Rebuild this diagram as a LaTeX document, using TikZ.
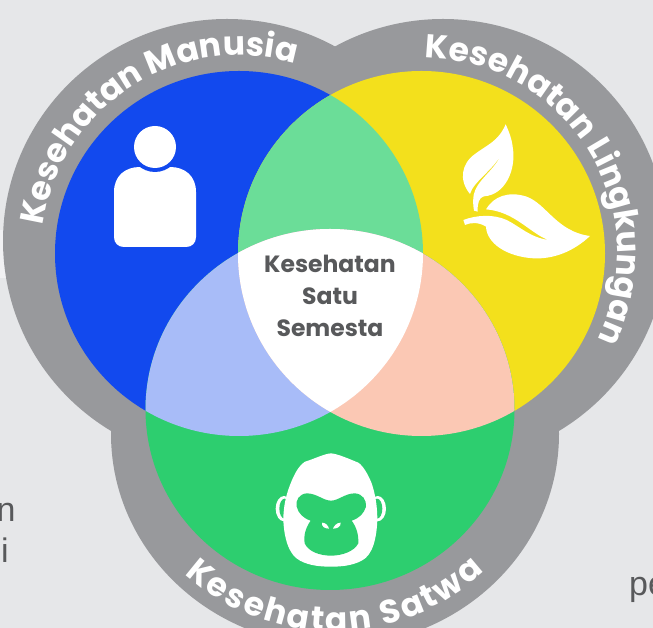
\documentclass[tikz,border=0pt]{standalone}
\usepackage{fontspec}
\setmainfont{Poppins}
\newfontfamily\straytext{Liberation Sans}
\usetikzlibrary{decorations.text}
\definecolor{bgc}{HTML}{E6E7E9}
\definecolor{stripc}{HTML}{F1F1F3}
\definecolor{ringc}{HTML}{98999C}
\definecolor{bluec}{HTML}{1249EE}
\definecolor{yellowc}{HTML}{F3E01C}
\definecolor{greenc}{HTML}{2DCE6F}
\definecolor{lensgreen}{HTML}{6BDD98}
\definecolor{lenslav}{HTML}{A8BCF8}
\definecolor{lenspeach}{HTML}{FBC8B4}
\definecolor{textc}{HTML}{58595B}
\newcommand{\blueshape}{(239pt,374.5pt) ellipse [x radius=184pt,y radius=182.5pt]}
\newcommand{\yellowshape}{(421.5pt,374.5pt) ellipse [x radius=183.5pt,y radius=182.5pt]}
\newcommand{\greenshape}{(330pt,218.5pt) ellipse [x radius=184.5pt,y radius=180.5pt]}
\newcommand{\ringfont}{\fontsize{33pt}{33pt}\selectfont\bfseries\color{white}}
\tikzset{
  curved/.style={decorate,decoration={text along path,text align={fit to path},
    text color=white,text={|\ringfont|#1}}},
  strayglyph/.style={text=textc,font=\straytext\fontsize{34pt}{34pt}\selectfont,inner sep=0pt,anchor=base},
  centerlabel/.style={text=textc,font=\fontsize{23.5pt}{32pt}\selectfont\bfseries,align=center,inner sep=0pt},
  zoomA/.style={x=0.33333pt,y=-0.33333pt,shift={(330pt,628pt)}},
  zoomB/.style={x=0.33333pt,y=-0.33333pt,shift={(260pt,188pt)}}
}
\begin{document}
\begin{tikzpicture}[x=1pt,y=1pt]
\useasboundingbox (0,0) rectangle (653,628);
\clip (0,0) rectangle (653,628);
\fill[bgc] (0,0) rectangle (653,628);
\fill[stripc] (0,350) rectangle (8,398);
% stray text cut from the source page
\node[strayglyph] (strayn) at (6,106) {n};
\node[strayglyph] (strayi) at (5,65) {i};
\node[strayglyph,anchor=base west] (strayp) at (629,32) {pe};
% grey ring
\fill[ringc] (227pt,387pt) ellipse [x radius=224pt,y radius=222pt];
\fill[ringc] (443pt,387pt) ellipse [x radius=224pt,y radius=222pt];
\fill[ringc] (335pt,194pt) ellipse [x radius=224pt,y radius=212pt];
% circles
\fill[bluec] \blueshape;
\fill[yellowc] \yellowshape;
\fill[greenc] \greenshape;
\begin{scope}\clip \blueshape; \fill[lensgreen] \yellowshape; \fill[lenslav] \greenshape; \end{scope}
\begin{scope}\clip \yellowshape; \fill[lenspeach] \greenshape; \end{scope}
\begin{scope}\clip \blueshape; \clip \yellowshape; \fill[white] \greenshape; \end{scope}
% person
\fill[white] (114,391) -- (114,436) .. controls (114,452) and (125,461) .. (140,461)
  -- (170,461) .. controls (185,461) and (196,452) .. (196,436) -- (196,391)
  .. controls (196,385) and (192,381) .. (186,381) -- (124,381)
  .. controls (118,381) and (114,385) .. (114,391) -- cycle;
\fill[bluec] (155,481) circle (25);
\fill[white] (155,481) circle (21);
% leaves
\begin{scope}[zoomA]
\fill[white] (527,373) .. controls (505,425) and (470,435) .. (435,462)
  .. controls (395,490) and (385,540) .. (420,582)
  .. controls (430,545) and (490,510) .. (514,462)
  .. controls (495,510) and (440,540) .. (431,585)
  .. controls (428,605) and (430,620) .. (432,632) -- (443,635)
  .. controls (442,610) and (447,592) .. (462,589)
  .. controls (525,585) and (560,510) .. (548,440)
  .. controls (545,415) and (537,395) .. (527,373) -- cycle;
\fill[white] (468,628) .. controls (490,590) and (535,572) .. (590,590)
  .. controls (650,612) and (680,695) .. (780,708)
  .. controls (730,755) and (670,778) .. (610,775)
  .. controls (530,770) and (470,730) .. (468,680)
  .. controls (445,665) and (420,668) .. (405,675)
  -- (400,660) .. controls (440,645) and (490,642) .. (530,660)
  .. controls (570,680) and (600,712) .. (655,720)
  .. controls (600,700) and (555,635) .. (468,628) -- cycle;
\end{scope}
% gorilla
\begin{scope}[zoomB]
\fill[white] (72,206) ellipse [x radius=25,y radius=38];
\fill[greenc] (74,206) ellipse [x radius=16,y radius=30];
\fill[white] (353,206) ellipse [x radius=25,y radius=38];
\fill[greenc] (351,206) ellipse [x radius=16,y radius=30];
\fill[white] (213,40) .. controls (235,42) and (270,58) .. (295,68)
  .. controls (310,78) and (325,105) .. (335,130)
  .. controls (345,160) and (352,195) .. (352,240)
  .. controls (350,290) and (340,345) .. (305,362)
  .. controls (275,378) and (240,380) .. (213,380)
  .. controls (185,380) and (150,378) .. (120,362)
  .. controls (85,345) and (72,290) .. (70,240)
  .. controls (70,195) and (80,160) .. (92,130)
  .. controls (102,105) and (115,78) .. (135,65)
  .. controls (160,58) and (190,42) .. (213,40) -- cycle;
\fill[greenc] (213,182) .. controls (190,182) and (170,160) .. (140,160)
  .. controls (118,162) and (106,180) .. (110,200)
  .. controls (115,220) and (130,235) .. (152,242)
  .. controls (138,262) and (130,285) .. (134,310)
  .. controls (145,335) and (180,347) .. (213,347)
  .. controls (245,347) and (282,335) .. (295,310)
  .. controls (296,285) and (290,262) .. (275,242)
  .. controls (298,235) and (312,220) .. (318,200)
  .. controls (320,180) and (308,162) .. (285,160)
  .. controls (255,160) and (235,182) .. (213,182) -- cycle;
\fill[white] (186,248) .. controls (198,248) and (205,258) .. (207,266)
  .. controls (195,266) and (184,260) .. (186,248) -- cycle;
\fill[white] (242,248) .. controls (230,248) and (222,258) .. (219,266)
  .. controls (232,266) and (243,260) .. (242,248) -- cycle;
\end{scope}
% centre label
\node[centerlabel] (centre) at (330,332) {Kesehatan\\Satu\\Semesta};
% ring labels
\path[curved={Kesehatan Manusia}] (239pt,374.5pt) ++(172:198pt) arc[start angle=172,end angle=73.5,radius=198pt];
\path[curved={Kesehatan Lingkungan}] (421.5pt,374.5pt) ++(89:196pt) arc[start angle=89,end angle=-26,radius=196pt];
\path[curved={Kesehatan Satwa}] (333pt,219pt) ++(-132:222pt) arc[start angle=-132,end angle=-47,radius=222pt];
\end{tikzpicture}
\end{document}
